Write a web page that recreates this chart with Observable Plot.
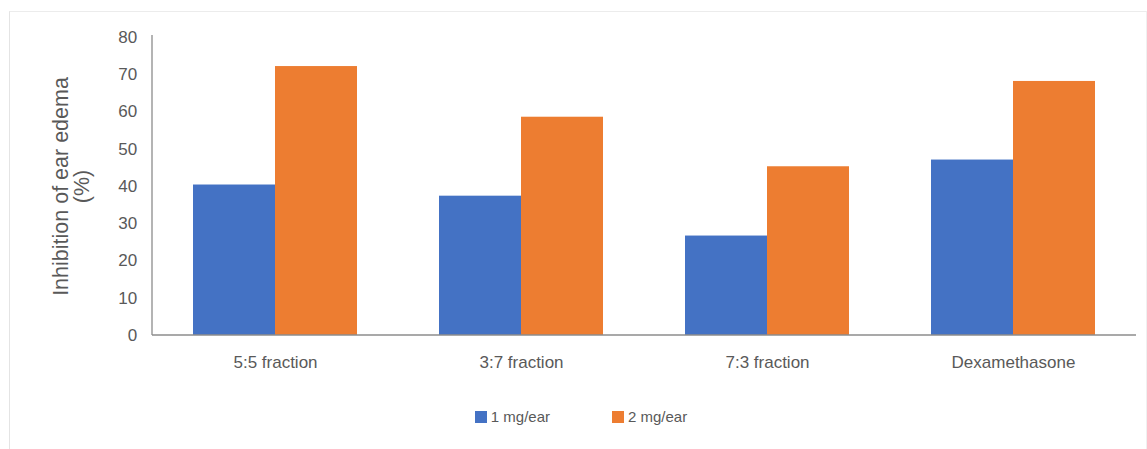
<!DOCTYPE html>
<html>
<head>
<meta charset="utf-8">
<script src="https://cdn.jsdelivr.net/npm/d3@7"></script>
<script src="https://cdn.jsdelivr.net/npm/@observablehq/plot@0.6"></script>
<style>
  body { margin: 0; background: #fff; font-family: "Liberation Sans", Arial, sans-serif; }
  #wrap { position: relative; width: 1147px; height: 449px; overflow: hidden; }
  #border { position: absolute; left: 9px; top: 11px; width: 1138px; height: 440px; border-left: 1px solid #e4e4e4; border-top: 1px solid #ececec; border-right: 1px solid #f0f0f0; box-sizing: border-box; }
  #chart { position: absolute; left: 0; top: 0; }
  #legend { position: absolute; top: 408px; left: 0; width: 1162px; display: flex; justify-content: center; gap: 62px; font-size: 15px; color: #595959; }
  .item { display: flex; align-items: center; gap: 4px; }
  .sw { width: 12px; height: 12px; display: inline-block; }
</style>
</head>
<body>
<div id="wrap">
  <div id="border"></div>
  <div id="chart"></div>
  <div id="legend"></div>
</div>
<script>
const categories = ["5:5 fraction", "3:7 fraction", "7:3 fraction", "Dexamethasone"];
const series = ["1 mg/ear", "2 mg/ear"];
const dose1 = [40.4, 37.4, 26.7, 47.1];
const dose2 = [72.2, 58.6, 45.3, 68.2];
const yTicks = [0, 10, 20, 30, 40, 50, 60, 70, 80];
const yTitle = "Inhibition of ear edema\n(%)";
const colors = ["#4472C4", "#ED7D31"];

const data = [];
categories.forEach((c, i) => {
  data.push({category: c, series: series[0], value: dose1[i]});
  data.push({category: c, series: series[1], value: dose2[i]});
});

const axisColor = "#8c8c8c";
const textColor = "#595959";
const W = 1147, H = 385, mL = 152, mR = 11, mT = 37, mB = 50;
const padIn = 0.335, padOut = padIn / 2;
// offset from plot frame edge to first facet (y axis is attached to first facet)
const facetOffset = ((W - mL - mR) / categories.length) * padOut;

const chart = Plot.plot({
  width: W,
  height: H,
  marginLeft: mL,
  marginRight: mR,
  marginTop: mT,
  marginBottom: mB,
  style: { fontFamily: "'Liberation Sans', Arial, sans-serif", fontSize: "17px", color: textColor, background: "transparent" },
  fx: { domain: categories, paddingInner: padIn, paddingOuter: padOut, label: null },
  x: { domain: series, padding: 0, axis: null },
  y: { domain: [0, 80], axis: null },
  color: { domain: series, range: colors },
  marks: [
    Plot.barY(data, { fx: "category", x: "series", y: "value", fill: "series" }),
    Plot.axisY({ ticks: yTicks, tickSize: 0, tickPadding: 15 + facetOffset, label: null, fill: textColor }),
    Plot.axisY({ ticks: [], tickSize: 0, label: yTitle, labelArrow: "none", labelAnchor: "center", labelOffset: 141, fontSize: 21.5, lineHeight: 0.95, fill: textColor }),
    Plot.axisFx({ anchor: "bottom", tickSize: 0, tickPadding: 20, label: null, fill: textColor })
  ]
});
document.getElementById("chart").appendChild(chart);

// axis lines across the full plot frame (outside facet bands), using the chart's y scale
const y = chart.scale("y");
const svg = d3.select(chart);
const g = svg.append("g").attr("stroke", axisColor).attr("stroke-width", 1.3);
g.append("line").attr("x1", mL).attr("x2", W - mR).attr("y1", y.apply(0)).attr("y2", y.apply(0));
g.append("line").attr("x1", mL).attr("x2", mL).attr("y1", y.apply(80) - 2).attr("y2", y.apply(0));

const legend = document.getElementById("legend");
series.forEach((s, i) => {
  const item = document.createElement("div");
  item.className = "item";
  const sw = document.createElement("span");
  sw.className = "sw";
  sw.style.background = colors[i];
  const t = document.createElement("span");
  t.textContent = s;
  item.appendChild(sw);
  item.appendChild(t);
  legend.appendChild(item);
});
</script>
</body>
</html>
